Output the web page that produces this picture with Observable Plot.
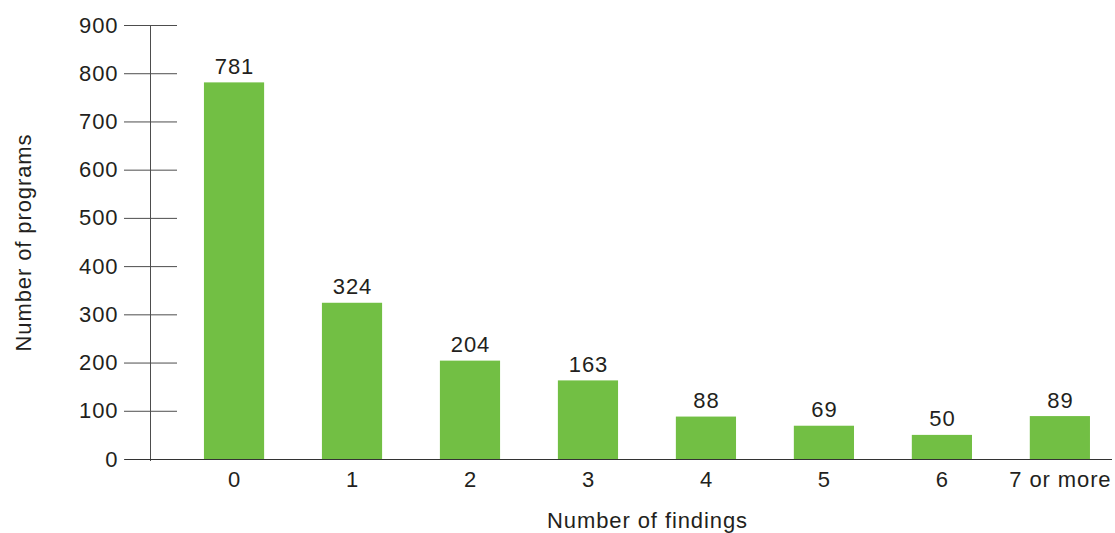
<!DOCTYPE html>
<html>
<head>
<meta charset="utf-8">
<script src="https://cdn.jsdelivr.net/npm/d3@7"></script>
<script src="https://cdn.jsdelivr.net/npm/@observablehq/plot@0.6"></script>
<style>
  html, body { margin: 0; padding: 0; background: #fff; }
  #chart svg { display: block; }
  #chart svg text { letter-spacing: 0.9px; }
</style>
</head>
<body>
<div id="chart"></div>
<script>
const categories = ["0", "1", "2", "3", "4", "5", "6", "7 or more"];
const programs = [781, 324, 204, 163, 88, 69, 50, 89];
const yTicks = [0, 100, 200, 300, 400, 500, 600, 700, 800, 900];
const xLabel = "Number of findings";
const yLabel = "Number of programs";

const data = categories.map((c, i) => ({finding: c, count: programs[i]}));

const chart = Plot.plot({
  width: 1115,
  height: 533,
  marginLeft: 150,
  marginRight: 3,
  marginTop: 25,
  marginBottom: 74,
  style: {fontFamily: "'Liberation Sans', Arial, sans-serif", fontSize: "22px", color: "#231f20", background: "#fff"},
  x: {domain: categories, paddingInner: 0.49, paddingOuter: 0.322, align: 0.71, round: false},
  y: {domain: [0, 900]},
  marks: [
    Plot.barY(data, {x: "finding", y: "count", fill: "#72bf44"}),
    Plot.text(data, {x: "finding", y: "count", text: d => String(d.count), lineAnchor: "bottom", dy: -9, fontSize: 22, fill: "#231f20"}),
    Plot.frame({anchor: "left", stroke: "#4d4d4d", insetBottom: -1}),
    Plot.axisY(yTicks, {tickSize: 53, dx: 27, fill: "none", stroke: "#4d4d4d", label: null}),
    Plot.axisY(yTicks, {tickSize: 0, tickPadding: 32, fontSize: 22, label: yLabel, labelAnchor: "center", labelOffset: 135, labelArrow: "none"}),
    Plot.ruleY([0], {stroke: "#333", insetLeft: -25}),
    Plot.axisX({tickSize: 0, tickPadding: 12, fontSize: 22, label: null}),
    Plot.text([xLabel], {frameAnchor: "bottom", lineAnchor: "bottom", dy: 68, dx: 16, fontSize: 22, fill: "#231f20"})
  ]
});
document.getElementById("chart").appendChild(chart);
</script>
</body>
</html>
